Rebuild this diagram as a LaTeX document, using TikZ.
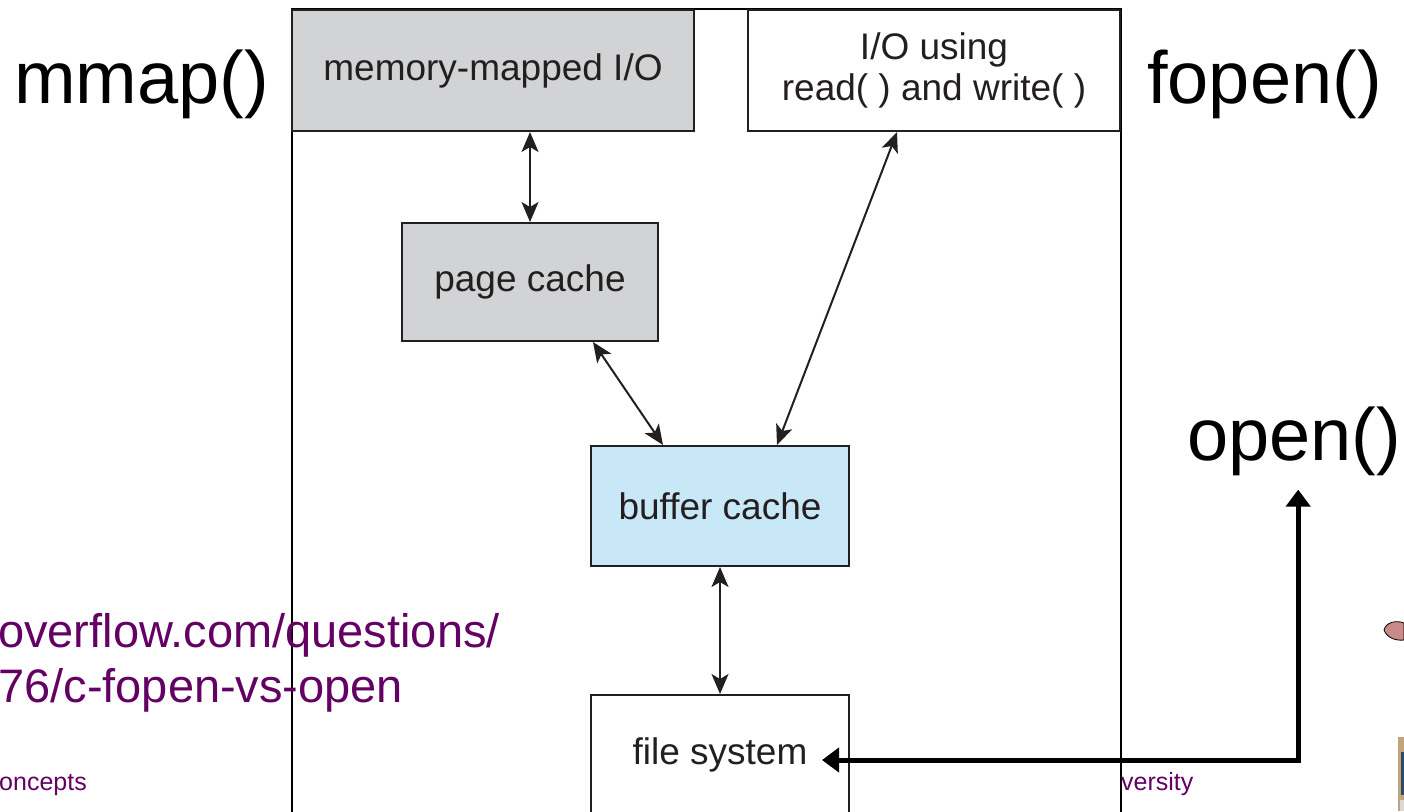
\documentclass[tikz,border=0pt]{standalone}
\usepackage{fontspec}
\setmainfont{Liberation Sans}
\usetikzlibrary{arrows.meta}

\definecolor{boxgray}{HTML}{D1D3D4}
\definecolor{boxblue}{HTML}{C8E8F8}
\definecolor{boxline}{HTML}{231F20}
\definecolor{linkpurple}{HTML}{640064}
\definecolor{clippink}{HTML}{C98A8A}
\definecolor{cliptan}{HTML}{C4A27A}
\definecolor{clipblue}{HTML}{2B4C6E}

\tikzset{
  cachebox/.style={draw=boxline, line width=2pt, inner sep=0pt, align=center,
    text=boxline, font=\fontsize{37}{41}\selectfont},
  syscall/.style={anchor=base west, inner sep=0pt, font=\fontsize{74}{80}\selectfont},
  slidetext/.style={anchor=base west, inner sep=0pt, text=linkpurple},
  dbl/.style={draw=boxline, line width=2pt,
    {Stealth[length=20pt,width=17pt,inset=5pt]}-{Stealth[length=20pt,width=17pt,inset=5pt]}},
  heavy/.style={line width=5pt,
    {Triangle[length=17pt,width=24pt]}-{Triangle[length=17pt,width=24pt]}},
}

\begin{document}
\begin{tikzpicture}[x=1pt,y=-1pt]
    \useasboundingbox (0,0) rectangle (1404,811);
    \clip (0,0) rectangle (1404,811);
    % frame round the layers
    \draw[line width=2pt] (292,840) -- (292,9) -- (1121,9) -- (1121,840);
    \node[cachebox, fill=boxgray, minimum width=402pt, minimum height=121pt] (mmio) at (493,70.5) {memory-mapped I/O};
    \node[cachebox, fill=white, minimum width=372pt, minimum height=121pt] (rwio) at (934,70.5) {I/O using\\read( ) and write( )};
    \node[cachebox, fill=boxgray, minimum width=256pt, minimum height=118pt] (page) at (530,282) {page cache};
    \node[cachebox, fill=boxblue, minimum width=258pt, minimum height=120pt] (buffer) at (720,506) {buffer cache};
    \node[cachebox, fill=white, minimum width=258pt, minimum height=120pt] (fs) at (720,755) {file system};
    \draw[dbl] (page.north |- mmio.south) -- (page.north);
    \draw[dbl] ([xshift=-66pt]page.south east) -- ([xshift=73pt]buffer.north west);
    \draw[dbl] ([xshift=-37pt]rwio.south) -- ([xshift=57pt]buffer.north);
    \draw[dbl] (buffer.south) -- (fs.north);
    % calls
    \node[syscall] (mmap) at (14,103) {mmap()};
    \node[syscall] (fopen) at (1147,103) {fopen()};
    \node[syscall] (open) at (1187,460) {open()};
    \draw[heavy] ([xshift=4pt,yshift=-14pt]open.south) |- ([xshift=-28pt,yshift=-5pt]fs.east);
    % slide text under the picture
    \node[slidetext, font=\fontsize{47}{55}\selectfont] (link1) at (-2,647) {overflow.com/questions/};
    \node[slidetext, font=\fontsize{47}{55}\selectfont] (link2) at (-2,702) {76/c-fopen-vs-open};
    \node[slidetext, font=\fontsize{25}{30}\selectfont] (course) at (-1,790) {oncepts};
    \node[slidetext, font=\fontsize{25}{30}\selectfont] (school) at (1121,790) {versity};
    % bits of clip art at the edge
    \filldraw[fill=clippink, draw=black, line width=0.8pt] (1384,630) .. controls (1386,622) and (1396,620) .. (1404,623) -- (1404,640) .. controls (1396,641) and (1387,638) .. (1384,630) -- cycle;
    \fill[cliptan] (1398,737) rectangle (1404,811);
    \fill[clipblue] (1401,752) rectangle (1404,795);
    \fill[gray!30] (1400,800) rectangle (1404,811);
\end{tikzpicture}
\end{document}
